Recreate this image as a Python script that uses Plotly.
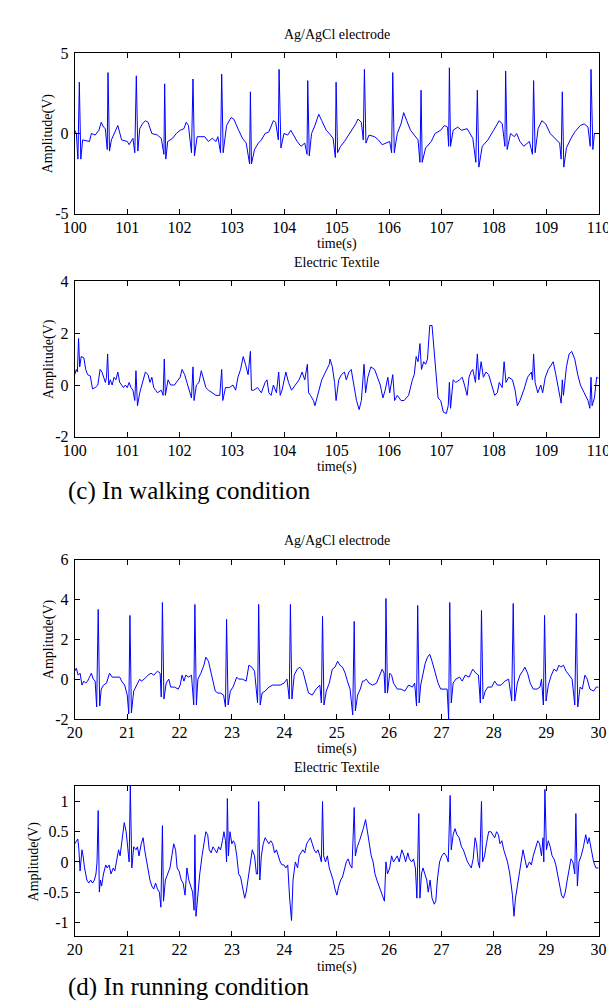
import plotly.graph_objects as go

# ---------------- data ----------------
# (c) walking, Ag/AgCl electrode
walk_agcl_t = [100.000, 100.030, 100.060, 100.087, 100.115, 100.150, 100.281, 100.317, 100.389, 100.461,
               100.505, 100.548, 100.584, 100.620, 100.634, 100.663, 100.699, 100.822, 100.894, 101.002,
               101.038, 101.110, 101.146, 101.175, 101.204, 101.240, 101.291, 101.348, 101.399, 101.471,
               101.579, 101.651, 101.702, 101.716, 101.738, 101.774, 101.867, 101.939, 102.012, 102.084,
               102.127, 102.170, 102.228, 102.257, 102.285, 102.336, 102.408, 102.480, 102.552, 102.624,
               102.696, 102.732, 102.783, 102.805, 102.833, 102.898, 102.985, 103.035, 103.129, 103.201,
               103.273, 103.338, 103.353, 103.374, 103.432, 103.504, 103.562, 103.634, 103.706, 103.764,
               103.792, 103.836, 103.886, 103.900, 103.936, 103.994, 104.066, 104.124, 104.174, 104.247,
               104.319, 104.391, 104.434, 104.448, 104.477, 104.521, 104.585, 104.658, 104.715, 104.802,
               104.859, 104.932, 104.975, 104.989, 105.018, 105.076, 105.148, 105.292, 105.364, 105.407,
               105.472, 105.508, 105.530, 105.559, 105.617, 105.725, 105.797, 105.869, 105.941, 106.013,
               106.049, 106.071, 106.100, 106.157, 106.229, 106.280, 106.337, 106.410, 106.482, 106.554,
               106.590, 106.611, 106.633, 106.698, 106.806, 106.878, 106.986, 107.058, 107.116, 107.138,
               107.152, 107.174, 107.224, 107.311, 107.383, 107.491, 107.599, 107.657, 107.686, 107.715,
               107.779, 107.888, 107.996, 108.068, 108.104, 108.161, 108.212, 108.226, 108.255, 108.320,
               108.392, 108.435, 108.500, 108.572, 108.680, 108.738, 108.760, 108.789, 108.846, 108.918,
               108.991, 109.077, 109.171, 109.257, 109.286, 109.308, 109.337, 109.387, 109.474, 109.546,
               109.654, 109.726, 109.798, 109.841, 109.856, 109.892, 109.921, 110.000]
walk_agcl_v = [0.2, 0.0, -1.6, 3.2, -1.6, -0.4, -0.5, 0.0, -0.1, 0.2,
               0.7, 0.4, 0.3, -1.0, 3.8, -1.1, -0.4, 0.5, -0.4, -0.5,
               -0.7, -0.3, -1.2, 3.6, -1.1, 0.3, 0.6, 0.8, 0.7, 0.0,
               -0.1, -0.3, -1.3, 3.1, -1.6, -0.5, -0.3, 0.0, 0.2, 0.3,
               0.7, 0.5, -1.2, 3.4, -1.4, -0.2, -0.2, -0.2, -0.5, -0.3,
               -0.5, -0.2, -1.2, 3.7, -1.2, 0.5, 1.0, 0.9, 0.2, -0.3,
               -0.6, -1.9, 2.6, -1.9, -1.0, -0.6, -0.4, 0.0, 0.1, 0.6,
               0.8, 0.7, -0.4, 4.0, -0.9, 0.0, -0.1, 0.2, -0.1, -0.5,
               -0.8, -0.6, -1.3, 3.3, -1.4, 0.0, 0.5, 1.2, 0.8, 0.2,
               0.0, -0.3, -1.5, 3.2, -1.2, -0.8, -0.5, 0.2, 0.6, 0.9,
               0.7, -0.4, 4.0, -0.6, -0.1, -0.2, -0.4, -0.7, -0.6, -0.5,
               -1.2, 3.8, -1.2, 0.0, 0.6, 1.3, 0.8, 0.2, -0.1, -0.4,
               -1.8, 2.7, -1.8, -0.9, -0.5, 0.0, 0.2, 0.5, 0.4, -0.8,
               4.1, -0.8, 0.2, 0.4, 0.2, 0.3, -0.3, -1.8, 2.7, -2.1,
               -0.8, -0.4, 0.2, 0.6, 0.8, 0.6, -0.8, 3.9, -1.0, 0.0,
               -0.2, 0.0, -0.5, -0.8, -0.5, -1.3, 3.3, -1.2, 0.3, 0.8,
               0.6, 0.0, -0.3, -0.6, -1.6, 2.6, -2.1, -0.9, -0.3, 0.1,
               0.5, 0.6, 0.4, -0.8, 4.0, -1.0, 0.0, 0.0]

# (c) walking, electric textile
walk_text_t = [100.000, 100.029, 100.050, 100.072, 100.094, 100.123, 100.173, 100.209, 100.245, 100.296,
               100.339, 100.389, 100.440, 100.483, 100.519, 100.555, 100.584, 100.606, 100.627, 100.649,
               100.678, 100.714, 100.750, 100.786, 100.822, 100.858, 100.894, 100.930, 100.966, 101.002,
               101.038, 101.074, 101.110, 101.146, 101.168, 101.197, 101.240, 101.291, 101.348, 101.399,
               101.435, 101.471, 101.507, 101.543, 101.579, 101.651, 101.687, 101.709, 101.730, 101.781,
               101.831, 101.903, 101.939, 102.012, 102.048, 102.098, 102.141, 102.192, 102.228, 102.257,
               102.278, 102.322, 102.372, 102.415, 102.459, 102.502, 102.552, 102.624, 102.696, 102.769,
               102.805, 102.826, 102.877, 102.949, 103.021, 103.071, 103.115, 103.165, 103.216, 103.259,
               103.309, 103.353, 103.374, 103.417, 103.489, 103.562, 103.634, 103.670, 103.706, 103.749,
               103.792, 103.850, 103.893, 103.922, 103.958, 104.030, 104.081, 104.138, 104.211, 104.283,
               104.340, 104.391, 104.441, 104.463, 104.499, 104.557, 104.585, 104.643, 104.715, 104.787,
               104.859, 104.874, 104.917, 104.960, 104.989, 105.040, 105.090, 105.148, 105.184, 105.234,
               105.278, 105.328, 105.379, 105.429, 105.472, 105.523, 105.552, 105.595, 105.653, 105.725,
               105.782, 105.833, 105.883, 105.926, 105.977, 106.013, 106.071, 106.107, 106.157, 106.229,
               106.287, 106.337, 106.373, 106.446, 106.482, 106.518, 106.554, 106.590, 106.619, 106.662,
               106.698, 106.734, 106.777, 106.821, 106.849, 106.893, 106.936, 106.986, 107.037, 107.094,
               107.130, 107.152, 107.174, 107.224, 107.275, 107.347, 107.397, 107.441, 107.491, 107.527,
               107.563, 107.599, 107.650, 107.686, 107.715, 107.758, 107.801, 107.851, 107.902, 107.960,
               108.017, 108.068, 108.104, 108.161, 108.197, 108.233, 108.284, 108.356, 108.407, 108.450,
               108.500, 108.572, 108.645, 108.717, 108.738, 108.760, 108.789, 108.839, 108.897, 108.933,
               108.983, 109.041, 109.099, 109.135, 109.185, 109.243, 109.286, 109.308, 109.330, 109.387,
               109.438, 109.488, 109.546, 109.603, 109.654, 109.726, 109.798, 109.834, 109.856, 109.877,
               109.921, 109.964, 110.000]
walk_text_v = [0.4, 0.6, 0.5, 1.8, 0.7, 1.1, 1.05, 0.6, 0.4, 0.35,
               -0.15, -0.1, 0.0, 0.6, 0.5, 0.3, 0.1, 0.3, 1.2, 0.0,
               0.2, 0.0, 0.3, 0.2, 0.5, 0.1, 0.0, -0.1, 0.0, -0.1,
               0.1, -0.1, -0.2, -0.6, 0.55, -0.8, -0.3, 0.1, 0.5, 0.4,
               0.1, 0.3, -0.1, -0.2, -0.3, -0.2, -0.4, 1.0, -0.4, 0.2,
               0.0, 0.0, 0.1, 0.3, 0.6, 0.4, 0.1, -0.2, -0.5, 0.7,
               -0.6, 0.0, 0.1, 0.55, 0.2, -0.1, -0.2, -0.3, -0.4, -0.4,
               0.6, -0.6, -0.1, -0.1, 0.0, -0.2, 0.3, 0.6, 1.1, 0.8,
               0.4, 1.3, -0.2, -0.2, -0.1, -0.3, 0.1, 0.2, -0.3, -0.4,
               0.0, -0.3, 0.5, -0.4, -0.2, 0.5, 0.1, -0.2, 0.0, 0.2,
               0.5, 0.2, 0.8, -0.3, -0.4, -0.6, -0.8, -0.3, 0.2, 0.5,
               0.8, 1.0, 0.7, 0.1, -0.6, 0.2, 0.4, 0.5, 0.2, 0.5,
               0.6, 0.0, -0.6, -0.95, -0.6, 0.8, -0.3, 0.3, 0.7, 0.6,
               0.3, 0.0, -0.5, -0.2, 0.3, -0.3, 0.4, -0.6, -0.4, -0.6,
               -0.6, -0.5, -0.4, 0.2, 0.4, 1.1, 0.9, 1.6, 0.6, 0.9,
               0.8, 1.0, 2.3, 2.3, 1.6, 0.5, -0.5, -0.6, -1.05, -1.1,
               -0.8, 0.1, -0.9, 0.2, 0.1, 0.2, 0.3, 0.0, -0.4, 0.3,
               0.5, 0.6, 0.1, 1.2, 0.2, 0.9, 0.3, 0.5, 0.4, 0.0,
               -0.4, -0.3, 0.1, -0.1, 0.9, 0.1, 0.3, 0.2, -0.2, -0.8,
               -0.6, -0.2, 0.3, 0.5, 0.2, 1.2, 0.1, -0.3, 0.0, -0.3,
               0.3, 0.6, 0.8, 0.9, 0.4, -0.2, -0.7, 0.2, -0.4, 0.7,
               1.2, 1.3, 1.0, 0.4, 0.0, -0.3, -0.6, -0.9, 0.3, -0.8,
               -0.5, 0.3, 0.25]

# (d) running, Ag/AgCl electrode
run_agcl_t = [20.000, 20.029, 20.065, 20.101, 20.137, 20.173, 20.209, 20.245, 20.281, 20.317,
              20.353, 20.389, 20.418, 20.447, 20.476, 20.505, 20.548, 20.606, 20.663, 20.714,
              20.786, 20.858, 20.894, 20.952, 21.002, 21.031, 21.053, 21.081, 21.125, 21.182,
              21.240, 21.269, 21.327, 21.399, 21.456, 21.507, 21.579, 21.629, 21.651, 21.673,
              21.702, 21.745, 21.795, 21.831, 21.903, 21.975, 22.012, 22.048, 22.084, 22.120,
              22.177, 22.228, 22.271, 22.293, 22.322, 22.350, 22.408, 22.466, 22.502, 22.552,
              22.588, 22.639, 22.682, 22.733, 22.783, 22.841, 22.877, 22.898, 22.927, 22.970,
              23.021, 23.093, 23.129, 23.201, 23.273, 23.324, 23.381, 23.432, 23.490, 23.511,
              23.540, 23.576, 23.634, 23.706, 23.778, 23.850, 23.922, 23.994, 24.052, 24.095,
              24.117, 24.146, 24.189, 24.247, 24.297, 24.355, 24.412, 24.463, 24.535, 24.607,
              24.679, 24.708, 24.730, 24.758, 24.802, 24.859, 24.917, 24.968, 25.018, 25.061,
              25.112, 25.162, 25.205, 25.256, 25.306, 25.335, 25.357, 25.400, 25.451, 25.494,
              25.523, 25.566, 25.617, 25.689, 25.761, 25.833, 25.869, 25.905, 25.926, 25.941,
              25.970, 26.013, 26.049, 26.085, 26.157, 26.229, 26.301, 26.373, 26.446, 26.489,
              26.525, 26.547, 26.575, 26.604, 26.647, 26.691, 26.734, 26.777, 26.821, 26.878,
              26.936, 26.986, 27.058, 27.109, 27.138, 27.159, 27.188, 27.224, 27.275, 27.347,
              27.397, 27.455, 27.527, 27.599, 27.657, 27.707, 27.743, 27.765, 27.794, 27.837,
              27.888, 27.960, 28.017, 28.068, 28.140, 28.212, 28.284, 28.342, 28.371, 28.399,
              28.450, 28.500, 28.551, 28.594, 28.645, 28.695, 28.753, 28.825, 28.882, 28.911,
              28.947, 28.969, 28.998, 29.041, 29.099, 29.149, 29.200, 29.243, 29.279, 29.330,
              29.380, 29.438, 29.495, 29.546, 29.575, 29.603, 29.647, 29.690, 29.740, 29.784,
              29.834, 29.906, 29.957, 30.000]
run_agcl_v = [0.4, 0.55, 0.2, 0.3, -0.3, -0.1, -0.2, -0.1, 0.1, 0.3,
              0.0, -0.1, -1.4, 3.5, -1.35, -0.5, -0.3, -0.2, 0.3, 0.1,
              0.1, 0.1, -0.1, -0.3, -0.8, -1.75, 3.2, -1.7, -0.6, -0.3,
              0.0, -0.1, 0.0, 0.2, 0.3, 0.2, 0.4, 0.3, -0.9, 3.85,
              -1.0, -0.2, 0.0, -0.4, -0.4, -0.5, -0.3, 0.2, -0.1, 0.2,
              0.1, 0.2, -1.3, 3.75, -1.3, 0.0, 0.3, 0.7, 1.1, 0.9,
              0.5, 0.0, -0.6, -0.7, -0.7, -0.8, -1.4, 3.0, -1.3, -0.6,
              -0.4, 0.1, 0.0, 0.0, -0.1, 0.7, 0.6, 0.4, -1.2, 3.75,
              -1.3, -0.7, -0.6, -0.4, -0.3, -0.3, -0.3, -0.2, 0.0, -1.0,
              3.75, -1.0, 0.2, 0.5, 0.6, 0.4, -0.2, -0.7, -0.8, -0.5,
              -0.3, -1.2, 3.15, -1.3, -0.6, -0.2, 0.5, 0.6, 0.9, 0.7,
              0.6, 0.3, -0.1, -0.5, -1.8, 2.9, -1.6, -0.8, -0.5, -0.1,
              -0.1, 0.0, -0.2, -0.3, -0.2, 0.3, 0.5, 0.3, -0.7, 4.05,
              -0.7, 0.3, 0.2, -0.2, -0.5, -0.5, -0.6, -0.3, -0.4, -0.2,
              -1.35, 3.7, -1.2, -0.3, 0.3, 0.8, 1.1, 1.25, 0.9, 0.4,
              -0.2, -0.5, -0.5, -0.5, -2.0, 3.85, -1.2, -0.2, 0.0, 0.1,
              -0.1, 0.2, 0.1, 0.5, 0.3, 0.2, -1.2, 3.45, -1.0, -0.6,
              -0.4, -0.4, -0.1, -0.3, -0.3, -0.1, 0.0, -1.1, 3.8, -1.1,
              -0.2, 0.2, 0.4, 0.6, 0.3, -0.2, -0.5, -0.5, -0.4, 0.0,
              -1.3, 3.2, -1.1, -0.3, 0.2, 0.5, 0.4, 0.7, 0.6, 0.7,
              0.4, 0.2, 0.0, -1.3, 3.3, -1.4, -0.4, -0.5, 0.2, 0.0,
              -0.5, -0.6, -0.4, -0.4]

# (d) running, electric textile
run_text_t = [20.000, 20.029, 20.058, 20.079, 20.101, 20.137, 20.159, 20.187, 20.231, 20.267,
              20.303, 20.339, 20.375, 20.404, 20.425, 20.447, 20.469, 20.490, 20.512, 20.548,
              20.591, 20.620, 20.656, 20.692, 20.735, 20.764, 20.800, 20.836, 20.865, 20.908,
              20.944, 20.981, 21.009, 21.038, 21.060, 21.089, 21.125, 21.168, 21.197, 21.226,
              21.269, 21.305, 21.334, 21.370, 21.406, 21.435, 21.471, 21.507, 21.543, 21.579,
              21.615, 21.644, 21.673, 21.694, 21.730, 21.774, 21.817, 21.853, 21.889, 21.925,
              21.954, 21.990, 22.033, 22.069, 22.105, 22.141, 22.177, 22.213, 22.249, 22.278,
              22.293, 22.314, 22.350, 22.386, 22.430, 22.466, 22.502, 22.538, 22.567, 22.603,
              22.639, 22.675, 22.711, 22.747, 22.783, 22.819, 22.848, 22.877, 22.898, 22.913,
              22.934, 22.963, 22.999, 23.028, 23.057, 23.093, 23.129, 23.165, 23.201, 23.244,
              23.273, 23.309, 23.345, 23.389, 23.432, 23.468, 23.490, 23.511, 23.533, 23.562,
              23.598, 23.634, 23.670, 23.706, 23.742, 23.778, 23.814, 23.850, 23.886, 23.922,
              23.958, 23.994, 24.030, 24.066, 24.102, 24.138, 24.167, 24.211, 24.254, 24.283,
              24.319, 24.355, 24.391, 24.427, 24.463, 24.499, 24.535, 24.571, 24.607, 24.643,
              24.679, 24.708, 24.730, 24.752, 24.787, 24.823, 24.859, 24.895, 24.932, 24.968,
              25.004, 25.040, 25.076, 25.112, 25.148, 25.184, 25.220, 25.256, 25.292, 25.335,
              25.357, 25.393, 25.436, 25.479, 25.508, 25.552, 25.588, 25.624, 25.660, 25.696,
              25.732, 25.768, 25.811, 25.847, 25.883, 25.912, 25.941, 25.970, 26.013, 26.049,
              26.085, 26.121, 26.157, 26.193, 26.244, 26.287, 26.316, 26.359, 26.388, 26.431,
              26.467, 26.503, 26.532, 26.568, 26.590, 26.619, 26.648, 26.684, 26.720, 26.748,
              26.784, 26.821, 26.864, 26.893, 26.922, 26.965, 27.008, 27.051, 27.094, 27.130,
              27.167, 27.188, 27.224, 27.260, 27.296, 27.339, 27.383, 27.419, 27.455, 27.498,
              27.534, 27.570, 27.606, 27.643, 27.671, 27.700, 27.729, 27.765, 27.787, 27.823,
              27.859, 27.902, 27.945, 27.981, 28.017, 28.053, 28.089, 28.118, 28.154, 28.190,
              28.226, 28.262, 28.306, 28.335, 28.356, 28.385, 28.414, 28.450, 28.486, 28.522,
              28.558, 28.594, 28.630, 28.681, 28.717, 28.753, 28.796, 28.839, 28.875, 28.911,
              28.940, 28.955, 28.976, 29.005, 29.041, 29.077, 29.113, 29.149, 29.185, 29.221,
              29.257, 29.293, 29.330, 29.366, 29.402, 29.438, 29.474, 29.510, 29.546, 29.567,
              29.596, 29.625, 29.668, 29.712, 29.755, 29.791, 29.820, 29.863, 29.906, 29.950,
              30.000]
run_text_v = [0.3, 0.35, 0.38, 0.2, -0.15, 0.2, 0.1, -0.1, -0.3, -0.35,
              -0.3, -0.35, -0.3, -0.2, 0.0, 0.85, -0.5, -0.3, -0.4, -0.2,
              -0.05, -0.1, -0.05, -0.2, -0.1, -0.15, 0.0, 0.2, 0.1, 0.4,
              0.65, 0.5, 0.2, 0.0, 1.26, -0.1, 0.25, 0.2, 0.25, 0.1,
              0.3, 0.4, 0.2, 0.0, -0.2, -0.3, -0.4, -0.45, -0.35, -0.45,
              -0.5, -0.75, 0.6, -0.65, -0.3, -0.2, -0.1, 0.1, 0.3, 0.2,
              -0.1, -0.15, -0.3, -0.35, -0.55, -0.1, -0.3, -0.4, -0.5, -0.8,
              0.45, -0.9, -0.5, -0.2, 0.1, 0.3, 0.5, 0.45, 0.2, 0.15,
              0.25, 0.2, 0.15, 0.25, 0.2, 0.35, 0.5, 0.35, 0.0, 1.05,
              0.1, 0.5, 0.3, 0.35, 0.3, 0.1, -0.2, -0.25, -0.4, -0.6,
              -0.5, -0.3, -0.1, 0.2, 0.1, -0.2, -0.2, 1.0, -0.3, 0.1,
              0.3, 0.4, 0.35, 0.3, 0.35, 0.3, 0.15, 0.2, 0.1, 0.0,
              -0.05, -0.05, -0.1, -0.05, -0.6, -0.97, -0.3, 0.0, -0.1, 0.1,
              0.15, 0.2, 0.15, 0.3, 0.35, 0.4, 0.3, 0.2, 0.15, 0.2,
              0.1, 0.0, 1.0, 0.1, 0.0, 0.1, -0.1, -0.2, -0.3, -0.45,
              -0.55, -0.4, -0.3, -0.25, -0.1, 0.0, 0.05, -0.05, -0.1, 0.9,
              0.1, 0.25, 0.35, 0.45, 0.55, 0.7, 0.5, 0.3, 0.1, 0.0,
              -0.2, -0.3, -0.4, -0.5, -0.6, -0.65, 0.0, -0.2, -0.1, 0.1,
              0.0, 0.05, 0.1, 0.0, 0.2, 0.1, 0.0, 0.15, 0.05, 0.0,
              0.05, -0.1, -0.6, 0.8, -0.6, -0.2, -0.1, -0.2, -0.3, -0.5,
              -0.3, -0.6, -0.7, -0.65, -0.3, 0.0, 0.1, 0.15, 0.1, 0.0,
              1.1, 0.2, 0.45, 0.55, 0.45, 0.4, 0.25, 0.2, 0.1, 0.0,
              -0.05, -0.1, 0.05, 0.4, 0.3, 0.0, -0.1, 1.0, 0.0, 0.1,
              0.3, 0.5, 0.5, 0.45, 0.4, 0.5, 0.45, 0.3, 0.35, 0.2,
              0.1, 0.0, -0.2, -0.4, -0.55, -0.9, -0.6, -0.4, -0.2, 0.0,
              0.2, 0.05, -0.1, 0.0, -0.05, 0.1, 0.25, 0.35, 0.3, 0.1,
              0.4, 0.0, 1.2, 0.2, 0.35, 0.25, 0.1, 0.05, -0.05, -0.2,
              -0.4, -0.55, -0.6, -0.5, -0.3, -0.1, 0.05, 0.0, -0.2, 0.8,
              -0.4, 0.0, 0.1, 0.25, 0.45, 0.3, 0.4, 0.2, 0.0, -0.1,
              -0.1]

walk_xticks = [100, 101, 102, 103, 104, 105, 106, 107, 108, 109, 110]
run_xticks = [20, 21, 22, 23, 24, 25, 26, 27, 28, 29, 30]
p1_yticks = [-5, 0, 5]
p2_yticks = [-2, 0, 2, 4]
p3_yticks = [-2, 0, 2, 4, 6]
p4_yticks = [-1, -0.5, 0, 0.5, 1]

titles = ["Ag/AgCl electrode", "Electric Textile", "Ag/AgCl electrode", "Electric Textile"]
captions = ["(c) In walking condition", "(d) In running condition"]

# ---------------- layout ----------------
W, H = 616, 1008
FONT = "Liberation Serif"
X0, X1 = 57, 602
# panel pixel boxes (top, bottom)
boxes = [(38, 201), (270, 428), (553, 715), (783, 936)]
series = [(walk_agcl_t, walk_agcl_v), (walk_text_t, walk_text_v),
          (run_agcl_t, run_agcl_v), (run_text_t, run_text_v)]
xr = [[100, 110], [100, 110], [20, 30], [20, 30]]
yr = [[-5, 5], [-2, 4], [-2, 6], [-1.23, 1.26]]
xt = [walk_xticks, walk_xticks, run_xticks, run_xticks]
yt = [p1_yticks, p2_yticks, p3_yticks, p4_yticks]
ylab_x = [30, 30, 30, 15]


def py(p):
    return 1 - p / H


def lab(v):
    return ("%g" % v)


fig = go.Figure()
layout = dict(width=W, height=H, margin=dict(l=0, r=0, t=0, b=0),
              paper_bgcolor="white", plot_bgcolor="white", showlegend=False,
              font=dict(family=FONT, color="black"))
annotations = []
for i in range(4):
    n = "" if i == 0 else str(i + 1)
    top, bot = boxes[i]
    fig.add_trace(go.Scatter(x=series[i][0], y=series[i][1], mode="lines",
                             line=dict(color="#0000ff", width=1),
                             xaxis="x" + n, yaxis="y" + n, hoverinfo="skip"))
    common = dict(showline=True, linecolor="black", linewidth=1, mirror="ticks",
                  ticks="inside", ticklen=5, tickcolor="black", tickwidth=1,
                  showgrid=False, zeroline=False,
                  tickfont=dict(family=FONT, size=16, color="black"))
    layout["xaxis" + n] = dict(common, domain=[X0 / W, X1 / W], range=xr[i],
                               tickvals=xt[i], ticktext=[lab(v) for v in xt[i]],
                               anchor="y" + n, ticklabelstandoff=-1)
    layout["yaxis" + n] = dict(common, domain=[py(bot), py(top)], range=yr[i],
                               tickvals=yt[i], ticktext=[lab(v) for v in yt[i]],
                               anchor="x" + n, ticklabelstandoff=2)
    cx = (X0 + X1) / 2 / W
    # subplot title
    annotations.append(dict(text=titles[i], x=cx, y=py(top - 19), xref="paper", yref="paper",
                            showarrow=False, xanchor="center", yanchor="middle",
                            font=dict(family=FONT, size=14, color="black")))
    # x title
    annotations.append(dict(text="time(s)", x=cx, y=py(bot + 31), xref="paper", yref="paper",
                            showarrow=False, xanchor="center", yanchor="middle",
                            font=dict(family=FONT, size=14, color="black")))
    # y title
    annotations.append(dict(text="Amplitude(V)", x=ylab_x[i] / W, y=py((top + bot) / 2),
                            xref="paper", yref="paper", showarrow=False, textangle=-90,
                            xanchor="center", yanchor="middle",
                            font=dict(family=FONT, size=14, color="black")))

annotations.append(dict(text=captions[0], x=48 / W, y=py(483), xref="paper", yref="paper",
                        showarrow=False, xanchor="left", yanchor="middle",
                        font=dict(family=FONT, size=25, color="black")))
annotations.append(dict(text=captions[1], x=48 / W, y=py(988), xref="paper", yref="paper",
                        showarrow=False, xanchor="left", yanchor="middle",
                        font=dict(family=FONT, size=25, color="black")))
layout["annotations"] = annotations
fig.update_layout(**layout)
fig.write_html("out.html")
